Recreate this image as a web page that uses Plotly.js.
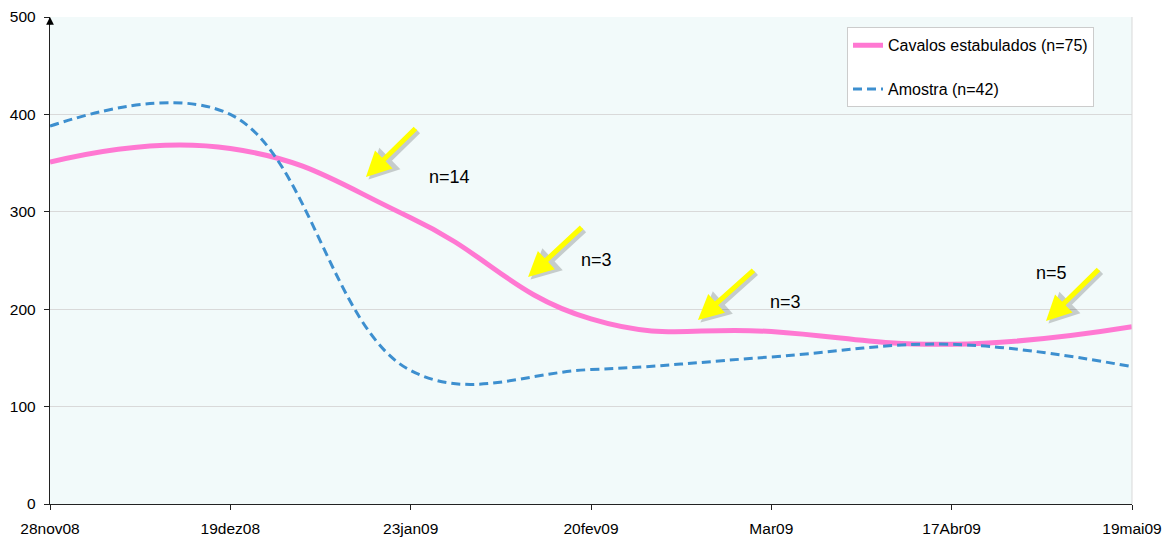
<!DOCTYPE html>
<html>
<head>
<meta charset="utf-8">
<script src="https://cdn.plot.ly/plotly-3.0.1.min.js"></script>
<style>html,body{margin:0;padding:0;background:#fff;}#chart{width:1173px;height:537px;}</style>
</head>
<body>
<div id="chart"></div>
<script>
const categories = ["28nov08","19dez08","23jan09","20fev09","Mar09","17Abr09","19mai09"];
const estabulados = [351, 365, 294, 190, 177, 164, 182];
const amostra = [388, 400, 137, 138, 151, 164, 141];
const nameEstabulados = "Cavalos estabulados (n=75)";
const nameAmostra = "Amostra (n=42)";
const nLabels = ["n=14", "n=3", "n=3", "n=5"];

const font = "Liberation Sans, Arial, Helvetica, sans-serif";

const traces = [
  {x: categories, y: estabulados, name: nameEstabulados, type: "scatter", mode: "lines",
   line: {color: "#ff78d2", width: 5, shape: "spline", smoothing: 1.3}, legendgroup: "a"},
  {x: categories, y: amostra, name: nameAmostra, type: "scatter", mode: "lines",
   line: {color: "#3d8fcf", width: 3, dash: "9px,5px", shape: "spline", smoothing: 1.1}, legendgroup: "b"}
];

// arrow heads (data coords) and tail offsets (px)
const arrows = [
  {x: 1.752, y: 335.7, ax: 51, ay: -50},
  {x: 2.651, y: 233, ax: 55, ay: -51},
  {x: 3.593, y: 188.9, ax: 57, ay: -51},
  {x: 5.523, y: 187.9, ax: 54, ay: -53}
];
const labelPos = [
  {x: 2.213, y: 335.7},
  {x: 3.033, y: 250.5},
  {x: 4.076, y: 207.4},
  {x: 5.551, y: 237.2}
];

const annotations = [];
arrows.forEach(a => {
  annotations.push({x: a.x, y: a.y, xref: "x", yref: "y", ax: a.ax, ay: a.ay, axref: "pixel", ayref: "pixel",
    text: "", showarrow: true, arrowhead: 2, arrowsize: 1, arrowwidth: 6, arrowcolor: "rgba(0,0,0,0.18)",
    xshift: 2.5, yshift: -2.5});
  annotations.push({x: a.x, y: a.y, xref: "x", yref: "y", ax: a.ax, ay: a.ay, axref: "pixel", ayref: "pixel",
    text: "", showarrow: true, arrowhead: 2, arrowsize: 1, arrowwidth: 5, arrowcolor: "#ffff00"});
});
labelPos.forEach((p, i) => {
  annotations.push({x: p.x, y: p.y, xref: "x", yref: "y", text: nLabels[i], showarrow: false,
    font: {family: font, size: 18, color: "#000"}});
});
// small arrowhead on top of y axis
annotations.push({x: 0, y: 1, xref: "paper", yref: "paper", ax: 0, ay: 9, axref: "pixel", ayref: "pixel",
  text: "", showarrow: true, arrowhead: 2, arrowsize: 1.3, arrowwidth: 1.2, arrowcolor: "#000"});

const layout = {
  width: 1173, height: 537,
  margin: {l: 50, r: 41, t: 17, b: 33},
  paper_bgcolor: "#ffffff",
  plot_bgcolor: "#f2fafa",
  font: {family: font, size: 15.5, color: "#000"},
  showlegend: true,
  legend: {x: 0.7366, y: 0.979, xanchor: "left", yanchor: "top", bgcolor: "#ffffff",
    bordercolor: "#cccccc", borderwidth: 1, traceorder: "grouped", tracegroupgap: 20,
    font: {family: font, size: 16, color: "#000"}, itemwidth: 30},
  xaxis: {type: "category", range: [0, 6], showgrid: false, zeroline: false,
    showline: true, linecolor: "#222", linewidth: 1.2, ticks: "outside", ticklen: 5, tickcolor: "#222",
    ticklabelstandoff: 5, tickfont: {family: font, size: 15.5}, fixedrange: true},
  yaxis: {range: [0, 500], dtick: 100, showgrid: true, gridcolor: "#d9d9d9", gridwidth: 1, zeroline: false,
    showline: true, linecolor: "#222", linewidth: 1.2, ticks: "outside", ticklen: 5, tickcolor: "#222",
    ticklabelstandoff: 5, tickfont: {family: font, size: 15.5}, fixedrange: true},
  shapes: [
    {type: "line", xref: "paper", yref: "paper", x0: 1, x1: 1, y0: 0, y1: 1, line: {color: "#d9d9d9", width: 1}}
  ],
  annotations: annotations
};

Plotly.newPlot("chart", traces, layout, {displayModeBar: false, staticPlot: true});
</script>
</body>
</html>
